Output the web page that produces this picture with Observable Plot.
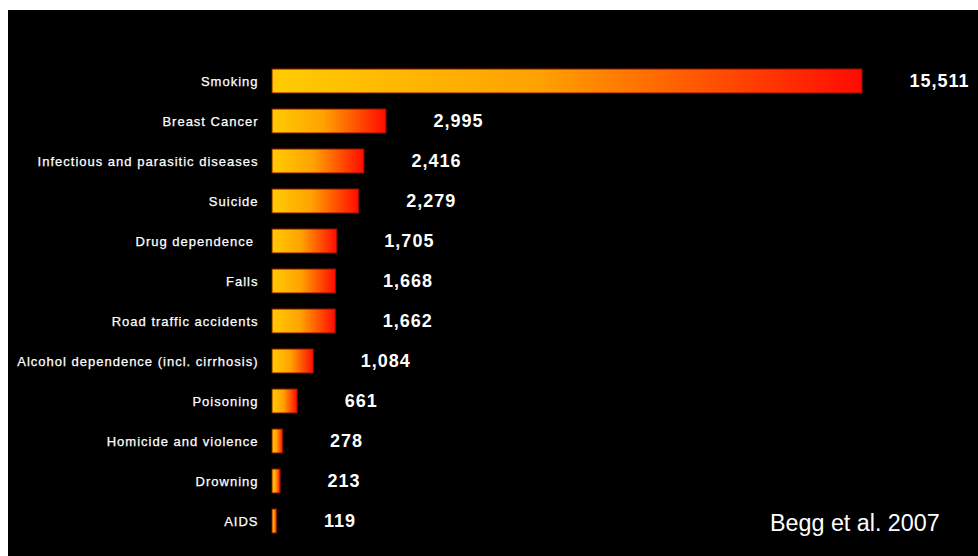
<!DOCTYPE html>
<html>
<head>
<meta charset="utf-8">
<script src="https://cdn.jsdelivr.net/npm/d3@7"></script>
<script src="https://cdn.jsdelivr.net/npm/@observablehq/plot@0.6"></script>
<style>
  html, body { margin: 0; padding: 0; background: #ffffff; width: 978px; height: 556px; overflow: hidden; }
  #panel { position: absolute; left: 8px; top: 10px; width: 970px; height: 546px; background: #000000; }
  #caption { position: absolute; left: 762px; top: 500px; color: #ffffff; font-family: "Liberation Sans", Arial, sans-serif; font-size: 23.3px; }
</style>
</head>
<body>
<div id="panel">
  <div id="chart"></div>
  <div id="caption">Begg et al. 2007</div>
</div>
<script>
const causes = [
  "Smoking",
  "Breast Cancer",
  "Infectious and parasitic diseases",
  "Suicide",
  "Drug dependence ",
  "Falls",
  "Road traffic accidents",
  "Alcohol dependence (incl. cirrhosis)",
  "Poisoning",
  "Homicide and violence",
  "Drowning",
  "AIDS"
];
const values = [15511, 2995, 2416, 2279, 1705, 1668, 1662, 1084, 661, 278, 213, 119];

const data = causes.map((c, i) => ({cause: c, value: values[i]}));

const defs = () => {
  const d = d3.create("svg:defs");
  const g = d.append("linearGradient").attr("id", "barGrad").attr("x1", "0").attr("x2", "1").attr("y1", "0").attr("y2", "0");
  g.append("stop").attr("offset", "0").attr("stop-color", "#FFCC00");
  g.append("stop").attr("offset", "0.45").attr("stop-color", "#FFA200");
  g.append("stop").attr("offset", "1").attr("stop-color", "#FF0A00");
  return d.node();
};

const chart = Plot.plot({
  width: 970,
  height: 546,
  marginTop: 43,
  marginBottom: 7,
  marginLeft: 264,
  marginRight: 116,
  style: {background: "#000000", color: "#ffffff", fontFamily: "'Liberation Sans', Arial, sans-serif"},
  x: {domain: [0, 15511], nice: false, axis: null},
  y: {domain: causes, padding: 0.4, label: null},
  marks: [
    defs,
    Plot.barX(data, {y: "cause", x: "value", fill: "url(#barGrad)", stroke: "#8a1500", strokeWidth: 1}),
    Plot.axisY({tickSize: 0, tickPadding: 14, fontSize: 13, fill: "#ffffff", textStroke: "none", label: null}),
    Plot.text(data, {y: "cause", x: "value", text: d => d3.format(",")(d.value), textAnchor: "start", dx: 47, fill: "#ffffff", fontSize: 18, fontWeight: "bold"})
  ]
});
chart.querySelectorAll("g[aria-label='y-axis tick label'] text").forEach(t => { t.style.letterSpacing = "1px"; t.setAttribute("stroke", "#ffffff"); t.setAttribute("stroke-width", "0.25"); });
chart.querySelectorAll("g[aria-label='text'] text").forEach(t => t.style.letterSpacing = "1px");
document.getElementById("chart").appendChild(chart);
</script>
</body>
</html>
